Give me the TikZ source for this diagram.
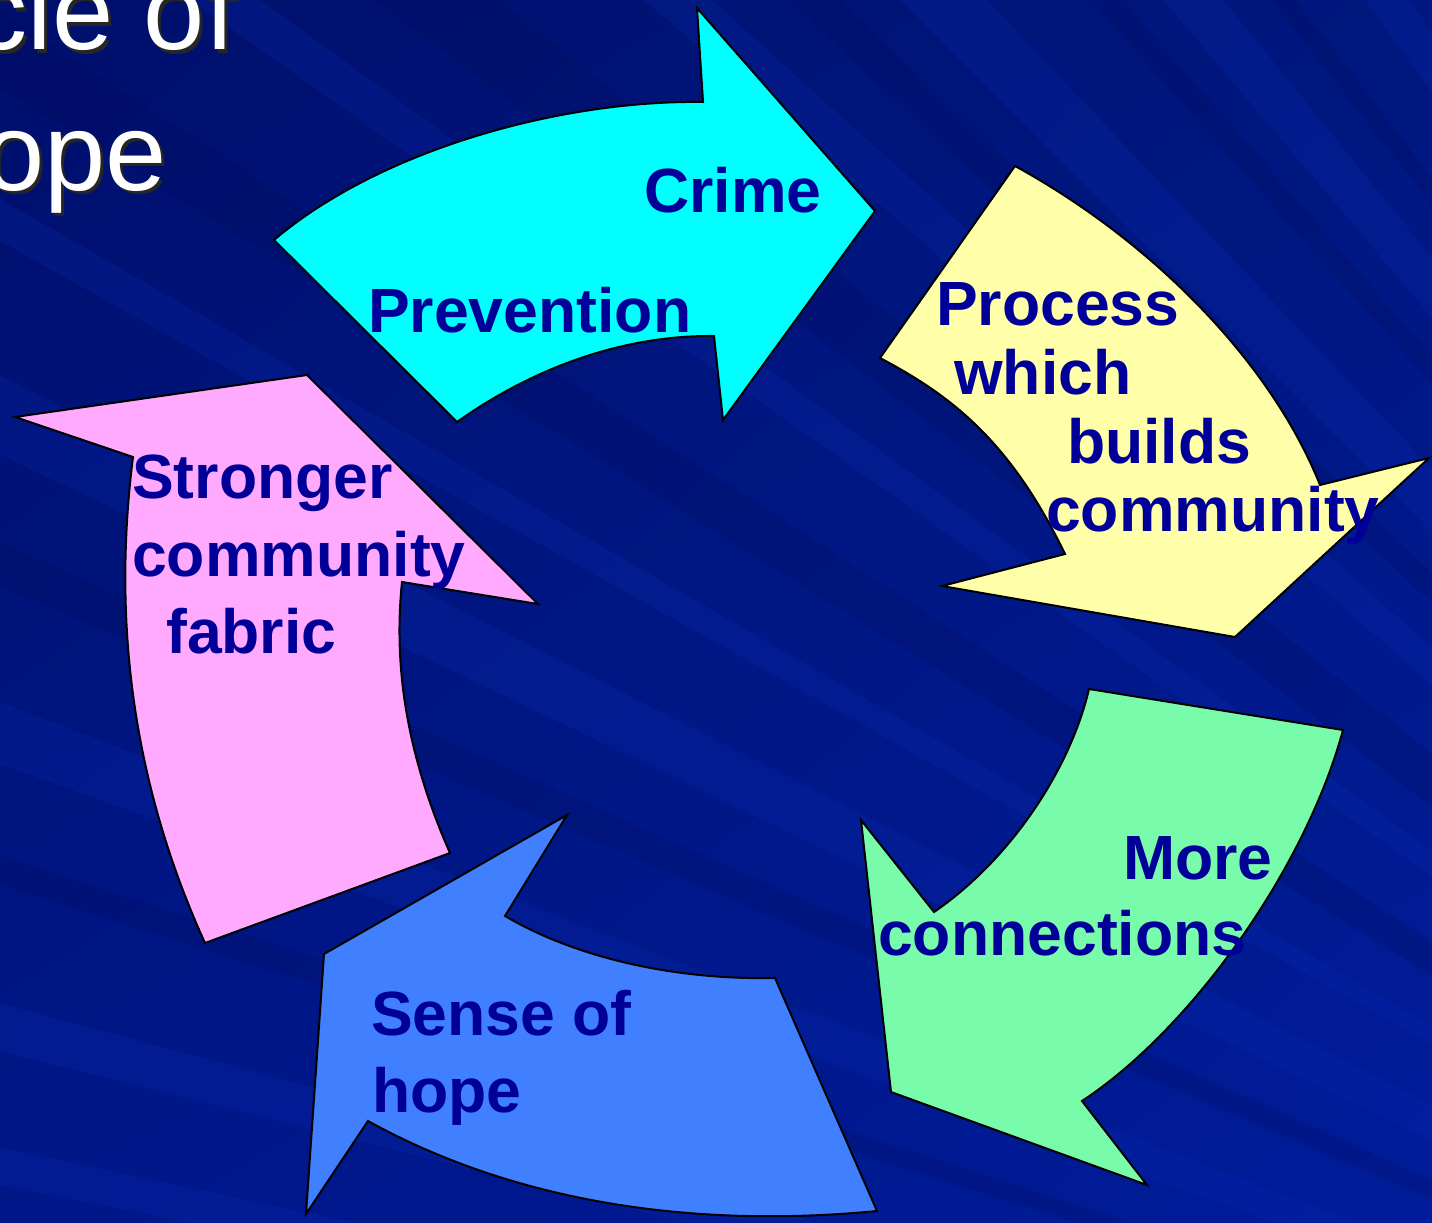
\documentclass[tikz,border=0pt]{standalone}
\usepackage{fontspec}
\setmainfont{Liberation Sans}
\usetikzlibrary{shadings}
\definecolor{bgUL}{HTML}{000F6C}
\definecolor{bgUR}{HTML}{00177F}
\definecolor{bgLL}{HTML}{001789}
\definecolor{bgLR}{HTML}{001C9A}
\definecolor{raylight}{HTML}{0A2DB8}
\definecolor{raydark}{HTML}{000A58}
\definecolor{cyanfill}{HTML}{00FFFF}
\definecolor{yellowfill}{HTML}{FFFFAA}
\definecolor{greenfill}{HTML}{78FCAC}
\definecolor{bluefill}{HTML}{4080FF}
\definecolor{pinkfill}{HTML}{FFAAFF}
\definecolor{txtblue}{HTML}{000099}
\begin{document}
\begin{tikzpicture}[x=1pt,y=-1pt,
  arr/.style={draw=black, line width=2pt, line join=miter},
  lbl/.style={anchor=base west, inner sep=0pt, text=txtblue, font=\fontsize{62.5}{70}\selectfont\bfseries},
  ttl/.style={anchor=base east, inner sep=0pt, text=white, font=\fontsize{110}{120}\selectfont},
  ttlshadow/.style={anchor=base east, inner sep=0pt, text=black!85, font=\fontsize{110}{120}\selectfont}]
\useasboundingbox (0,0) rectangle (1432,1223);
\clip (0,0) rectangle (1432,1223);
% background
\shade[upper left=bgUL, upper right=bgUR, lower left=bgLL, lower right=bgLR] (0,0) rectangle (1432,1223);
\coordinate (S) at (2600,1700);
\foreach \a/\w/\c in {125/1.0/raylight, 127.5/0.5/raydark, 129/1.2/raylight, 131/0.6/raydark,
  133.5/1.5/raylight, 136/0.8/raydark, 138/1.0/raylight, 141/1.6/raydark, 144/0.8/raylight,
  147/1.2/raydark, 150/0.7/raylight, 153/1.4/raylight, 156/0.8/raydark, 159/1.2/raylight,
  162/0.6/raydark, 165/1.0/raylight, 168/0.8/raylight}{
  \fill[\c, opacity=0.22] (S) -- +(\a:4200pt) -- +(\a+\w:4200pt) -- cycle;
}
% title (cut at the left edge)
\node[ttlshadow] (t1s) at (239,53) {cle of};
\node[ttl] (t1) at (236,50) {cle of};
\node[ttlshadow] (t2s) at (170,193) {ope};
\node[ttl] (t2) at (167,190) {ope};
% cyan arrow
\path[arr, fill=cyanfill]
  (274,240) .. controls (380,150) and (560,100) .. (703,102)
  -- (697,8) -- (875,211) -- (723,420) -- (714,336)
  .. controls (620,335) and (530,370) .. (457,422)
  -- cycle;
% yellow arrow
\path[arr, fill=yellowfill]
  (1015,166) .. controls (1150,240) and (1270,360) .. (1320,485)
  -- (1429,458) -- (1235,637) -- (942,586) -- (1065,554)
  .. controls (1010,440) and (950,395) .. (880,358)
  -- cycle;
% green arrow
\path[arr, fill=greenfill]
  (1089,689) -- (1343,730)
  .. controls (1305,870) and (1190,1030) .. (1082,1101)
  -- (1147,1185) -- (891,1092) -- (861,820) -- (934,912)
  .. controls (1010,860) and (1070,770) .. (1089,689)
  -- cycle;
% blue arrow
\path[arr, fill=bluefill]
  (567,815) -- (505,916)
  .. controls (580,960) and (680,980) .. (775,978)
  -- (877,1211)
  .. controls (700,1228) and (520,1205) .. (368,1121)
  -- (306,1214) -- (324,954) -- cycle;
% pink arrow
\path[arr, fill=pinkfill]
  (205,943) -- (450,853)
  .. controls (400,740) and (395,650) .. (402,582)
  -- (538,604) -- (307,375) -- (15,417) -- (133,457)
  .. controls (110,640) and (140,800) .. (205,943)
  -- cycle;
% labels
\node[lbl] (crime) at (644,212) {Crime};
\node[lbl] (prev) at (368,332) {Prevention};
\node[lbl] (proc) at (936,325) {Process};
\node[lbl] (which) at (954,394) {which};
\node[lbl] (builds) at (1067,463) {builds};
\node[lbl] (comm1) at (1046,531) {community};
\node[lbl] (more) at (1123,879) {More};
\node[lbl] (conn) at (878,955) {connections};
\node[lbl] (sense) at (371,1035) {Sense of};
\node[lbl] (hope) at (372,1112) {hope};
\node[lbl] (strong) at (132,498) {Stronger};
\node[lbl] (comm2) at (132,576) {community};
\node[lbl] (fabric) at (166,653) {fabric};
\end{tikzpicture}
\end{document}
